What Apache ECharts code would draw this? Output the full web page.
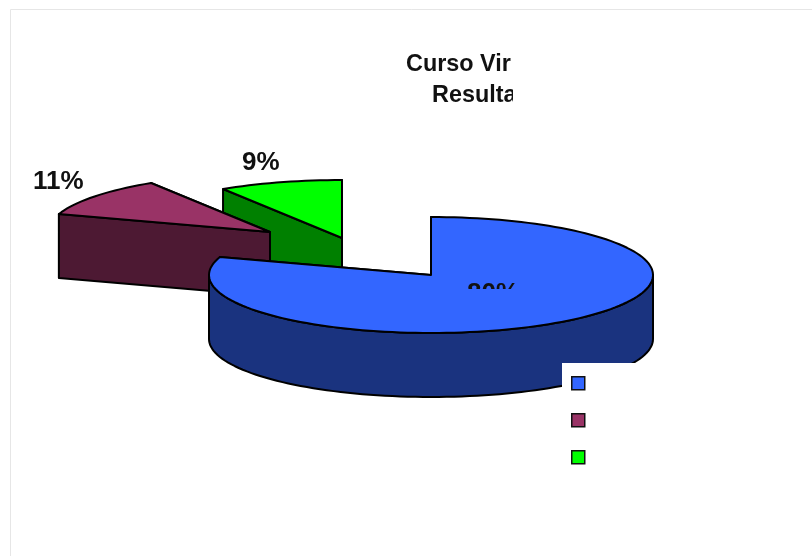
<!DOCTYPE html>
<html>
<head>
<meta charset="utf-8">
<style>html,body{margin:0;padding:0;background:#fff}#c{width:812px;height:556px}</style>
<script src="https://cdn.jsdelivr.net/npm/echarts@6/dist/echarts.min.js"></script>
</head>
<body>
<div id="c"></div>
<script>
// data
const categories = ['80%', '11%', '9%'];
const values = [80, 11, 9];
const titleLines = ['Curso Vir', 'Resulta'];

// styles
const topColors = ['#3366FF', '#993366', '#00FF00'];
const wallColors = ['#1A337F', '#4D1933', '#008000'];

// pie geometry (pixels)
const CX = 431, CY = 275, RX = 222, RY = 58, DEPTH = 64;
const explodeX = [0, -161, -89];
const explodeY = [0, -43, -37];
const labelX = [467, 33, 242];
const labelY = [307, 195, 176];
const FONT = 'bold 26px "Liberation Sans", Arial, sans-serif';
const INK = '#000';
const STROKE = 2;

const total = values.reduce((a, b) => a + b, 0);

function pt(deg, ox, oy, dz) {
  const r = deg * Math.PI / 180;
  return [CX + ox + RX * Math.sin(r), CY + oy - RY * Math.cos(r) + dz];
}
function arc(a, b, ox, oy, dz) {
  const out = [];
  const n = Math.max(2, Math.ceil(Math.abs(b - a) / 2));
  for (let i = 0; i <= n; i++) out.push(pt(a + (b - a) * i / n, ox, oy, dz));
  return out;
}

function renderSlice(params, api) {
  const i = api.value(1);
  const v = api.value(0);
  let before = 0;
  for (let k = 0; k < i; k++) before += values[k];
  const a = before / total * 360;
  const b = (before + v) / total * 360;
  const ox = explodeX[i], oy = explodeY[i];
  const apex = [CX + ox, CY + oy];
  const apexLow = [apex[0], apex[1] + DEPTH];
  const base = { stroke: INK, lineWidth: STROKE, lineJoin: 'round' };
  const wall = Object.assign({ fill: wallColors[i] }, base);
  const top = Object.assign({ fill: topColors[i] }, base);
  const children = [];
  // radial side walls: far one first, near one over it
  [b, a].forEach(function (deg) {
    children.push({ type: 'polygon', shape: { points: [apex, pt(deg, ox, oy, 0), pt(deg, ox, oy, DEPTH), apexLow] }, style: wall });
  });
  // rim, only the part that faces the viewer
  const f0 = Math.max(a, 90), f1 = Math.min(b, 270);
  if (f1 > f0) {
    const upper = arc(f0, f1, ox, oy, 0);
    const lower = arc(f1, f0, ox, oy, DEPTH);
    children.push({ type: 'polygon', shape: { points: upper.concat(lower) }, style: wall });
  }
  // top face
  children.push({ type: 'polygon', shape: { points: [apex].concat(arc(a, b, ox, oy, 0)) }, style: top });
  // percentage label
  const label = { type: 'text', style: { text: Math.round(v / total * 100) + '%', x: labelX[i], y: labelY[i], font: FONT, fill: '#111', textAlign: 'left', textVerticalAlign: 'bottom' } };
  if (i === 0) {
    children.push({ type: 'group', clipPath: { type: 'rect', shape: { x: 460, y: 280, width: 55, height: 9 } }, children: [label] });
  } else {
    children.push(label);
  }
  return { type: 'group', children: children };
}

// back slices are painted first, the large slice last
const series = [2, 1, 0].map(function (i) {
  return {
    type: 'custom',
    name: categories[i],
    coordinateSystem: 'none',
    renderItem: renderSlice,
    silent: true,
    animation: false,
    itemStyle: { color: topColors[i] },
    data: [[values[i], i]]
  };
});

const chart = echarts.init(document.getElementById('c'), null, { renderer: 'canvas' });
chart.setOption({
  backgroundColor: '#fff',
  animation: false,
  title: [
    { text: titleLines[0], left: 406, top: 53, padding: 0, textStyle: { fontFamily: '"Liberation Sans", Arial, sans-serif', fontWeight: 'bold', fontSize: 23.4, color: '#111' } },
    { text: titleLines[1], left: 432, top: 84, padding: 0, textStyle: { fontFamily: '"Liberation Sans", Arial, sans-serif', fontWeight: 'bold', fontSize: 23.4, color: '#111' } }
  ],
  legend: {
    orient: 'vertical',
    left: 562,
    top: 363,
    padding: [13, 70, 60, 9],
    backgroundColor: '#fff',
    data: categories,
    icon: 'rect',
    itemWidth: 13,
    itemHeight: 13,
    itemGap: 22.5,
    selectedMode: false,
    formatter: function () { return ''; },
    itemStyle: { borderColor: '#111', borderWidth: 1.5 }
  },
  graphic: [
    { type: 'rect', z: -1, x: 10.5, y: 9.5, shape: { x: 0, y: 0, width: 900, height: 700 }, style: { fill: 'none', stroke: '#e6e6e6', lineWidth: 1 } },
    { type: 'rect', z: 100, x: 513, y: 80, shape: { x: 0, y: 0, width: 8, height: 30 }, style: { fill: '#fff' } }
  ],
  series: series
});
</script>
</body>
</html>
